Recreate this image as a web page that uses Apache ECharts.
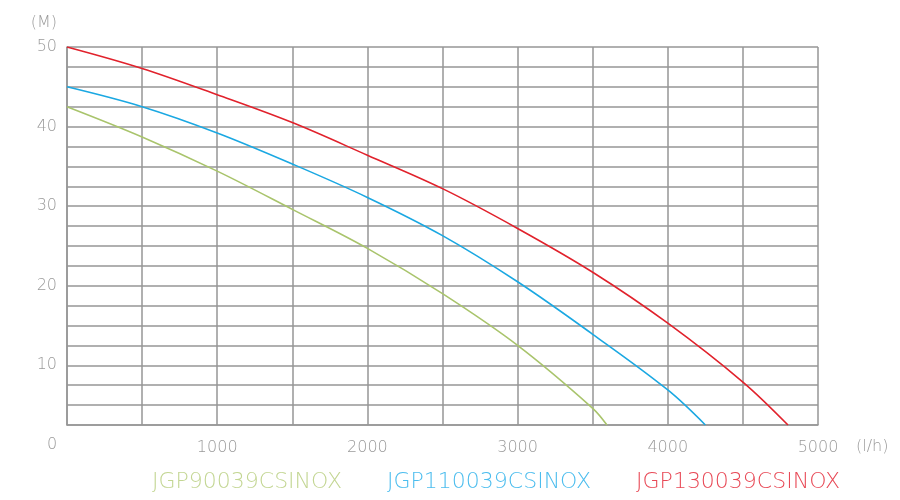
<!DOCTYPE html>
<html>
<head>
<meta charset="utf-8">
<script src="https://cdn.jsdelivr.net/npm/echarts@6/dist/echarts.min.js"></script>
<style>
  html, body { margin: 0; padding: 0; background: #fff; }
  #chart { width: 900px; height: 500px; }
</style>
</head>
<body>
<div id="chart"></div>
<script>
// flow (l/h) -> head (M)
var names = ["JGP90039CSINOX", "JGP110039CSINOX", "JGP130039CSINOX"];
var lineColors = ["#a9c46c", "#1ba8e2", "#e1222c"];
var textColors = ["#c3d693", "#4cbdee", "#e84956"];

var flow90 = [0, 500, 1000, 1500, 2000, 2500, 3000, 3500, 3595];
var head90 = [42.5, 38.7, 34.4, 29.6, 24.7, 19.0, 12.5, 4.6, 2.5];

var flow110 = [0, 500, 1000, 1500, 2000, 2500, 3000, 3500, 4000, 4250];
var head110 = [45, 42.5, 39.2, 35.3, 31.1, 26.3, 20.5, 13.9, 6.9, 2.5];

var flow130 = [0, 500, 1000, 1500, 2000, 2500, 3000, 3500, 4000, 4500, 4800];
var head130 = [50, 47.3, 44.0, 40.5, 36.4, 32.2, 27.2, 21.7, 15.3, 7.9, 2.5];

var font = "DejaVu Sans";
var gridColor = "#969696";

function pairs(xs, ys) {
  return xs.map(function (x, i) { return [x, ys[i]]; });
}

var chart = echarts.init(document.getElementById("chart"));

var series = [pairs(flow90, head90), pairs(flow110, head110), pairs(flow130, head130)].map(function (d, i) {
  return {
    name: names[i],
    type: "line",
    data: d,
    smooth: 0.35,
    showSymbol: false,
    lineStyle: { color: lineColors[i], width: 1.6 },
    itemStyle: { color: lineColors[i] }
  };
});

chart.setOption({
  animation: false,
  grid: { left: 67, right: 82, top: 47, bottom: 75 },
  legend: {
    left: 142,
    bottom: 2,
    itemWidth: 0,
    itemHeight: 0,
    itemGap: 40,
    icon: "none",
    data: names.map(function (n, i) {
      return { name: n, textStyle: { color: textColors[i] } };
    }),
    textStyle: { fontFamily: font, fontWeight: 200, fontSize: 22, padding: 0 }
  },
  xAxis: {
    type: "value",
    min: 0,
    max: 5000,
    interval: 500,
    name: "(l/h)",
    nameLocation: "end",
    nameGap: 38,
    nameTextStyle: { color: "#9a9a9a", fontFamily: font, fontWeight: 200, fontSize: 16, verticalAlign: "top", padding: [14, 0, 0, 0] },
    axisLine: { show: true, lineStyle: { color: gridColor, width: 1.5 } },
    axisTick: { show: false },
    splitLine: { show: true, lineStyle: { color: gridColor, width: 1.5 } },
    axisLabel: {
      color: "#9a9a9a",
      fontFamily: font,
      fontWeight: 200,
      fontSize: 16,
      margin: 15,
      showMinLabel: false,
      formatter: function (v) { return v > 0 && v % 1000 === 0 ? String(v) : ""; }
    }
  },
  yAxis: {
    type: "value",
    min: 2.5,
    max: 50,
    interval: 2.5,
    name: "(M)",
    nameLocation: "end",
    nameGap: 16,
    nameTextStyle: { color: "#9a9a9a", fontFamily: font, fontWeight: 200, fontSize: 16, align: "right", padding: [0, 10, 0, 0] },
    axisLine: { show: true, lineStyle: { color: gridColor, width: 1.5 } },
    axisTick: { show: false },
    splitLine: { show: true, lineStyle: { color: gridColor, width: 1.5 } },
    axisLabel: {
      color: "#9a9a9a",
      fontFamily: font,
      fontWeight: 200,
      fontSize: 16,
      margin: 10,
      formatter: function (v) { return v % 10 === 0 ? String(v) : ""; }
    }
  },
  graphic: [{
    type: "text",
    left: 47,
    top: 437,
    style: { text: "0", fill: "#9a9a9a", font: "200 16px '" + font + "'" }
  }],
  series: series
});
</script>
</body>
</html>
